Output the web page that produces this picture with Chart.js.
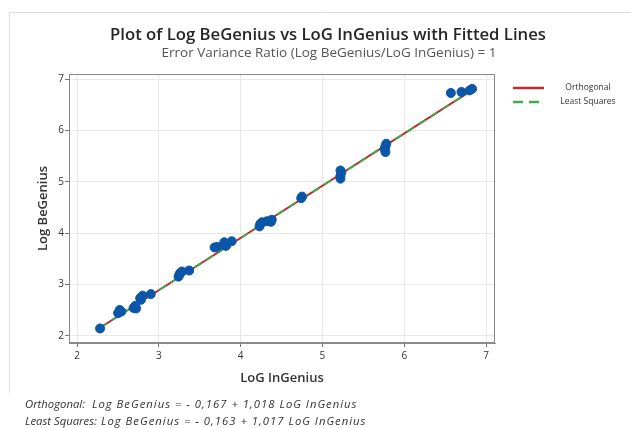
<!DOCTYPE html>
<html>
<head>
<meta charset="utf-8">
<script src="https://cdn.jsdelivr.net/npm/chart.js@4/dist/chart.umd.min.js"></script>
<style>
  body { margin: 0; background: #fff; }
  #wrap { position: relative; width: 631px; height: 428px; }
</style>
</head>
<body>
<div id="wrap"><canvas id="chart" width="631" height="428"></canvas></div>
<script>
const xValues = [2.28, 2.50, 2.52, 2.54, 2.69, 2.71, 2.72, 2.77, 2.78, 2.80, 2.90,
    3.24, 3.25, 3.26, 3.28, 3.37, 3.68, 3.71, 3.79, 3.80, 3.82, 3.89,
    4.23, 4.24, 4.26, 4.32, 4.37, 4.38, 4.74, 4.75,
    5.22, 5.22, 5.23, 5.22, 5.76, 5.77, 5.77, 5.78, 6.57, 6.70, 6.80, 6.83];
const yValues = [2.14, 2.44, 2.50, 2.47, 2.54, 2.58, 2.53, 2.73, 2.70, 2.78, 2.81,
    3.15, 3.19, 3.22, 3.25, 3.27, 3.72, 3.73, 3.77, 3.82, 3.75, 3.84,
    4.13, 4.18, 4.21, 4.23, 4.22, 4.26, 4.68, 4.71,
    5.06, 5.12, 5.18, 5.22, 5.64, 5.58, 5.69, 5.74, 6.73, 6.75, 6.78, 6.81];

// fitted line end points
const lineX = [2.28, 6.83];
const orthoY = [2.154, 6.786];
const lsY = [2.156, 6.783];

const xTicks = [2, 3, 4, 5, 6, 7];
const yTicks = [2, 3, 4, 5, 6, 7];

const titleText = 'Plot of Log BeGenius vs LoG InGenius with Fitted Lines';
const subtitleText = 'Error Variance Ratio (Log BeGenius/LoG InGenius) = 1';
const legendLabels = ['Orthogonal', 'Least Squares'];
const eqLabels = ['Orthogonal:', 'Least Squares:'];
const equations = [
    'Log BeGenius = - 0,167 + 1,018 LoG InGenius',
    'Log BeGenius = - 0,163 + 1,017 LoG InGenius'
];

const RED = '#bf2b2b';
const GREEN = '#44a84e';
const BLUE = '#0b56a8';
const FONT = "'Open Sans', 'Noto Sans', sans-serif";

const toPts = (xs, ys) => xs.map((x, i) => ({ x: x, y: ys[i] }));

// titles, legend, equations, frame
const decorations = {
    id: 'decorations',
    afterDraw(chart) {
        const ctx = chart.ctx;
        const area = chart.chartArea;
        ctx.save();

        // outer frame
        ctx.strokeStyle = '#dcdcdc';
        ctx.lineWidth = 1;
        ctx.beginPath();
        ctx.moveTo(9.5, 393);
        ctx.lineTo(9.5, 12.5);
        ctx.lineTo(631, 12.5);
        ctx.stroke();

        // plot box
        ctx.strokeStyle = '#8a8a8a';
        ctx.strokeRect(area.left + 0.5, area.top + 0.5, area.right - area.left - 1, area.bottom - area.top - 1);

        ctx.textAlign = 'center';
        ctx.textBaseline = 'middle';
        ctx.fillStyle = '#262626';
        ctx.font = '600 16.7px ' + FONT;
        ctx.fillText(titleText, 328, 35);
        ctx.fillStyle = '#555';
        ctx.font = '13.5px ' + FONT;
        ctx.fillText(subtitleText, 329, 53);

        // legend
        ctx.lineWidth = 2.5;
        ctx.strokeStyle = RED;
        ctx.beginPath();
        ctx.moveTo(513, 88);
        ctx.lineTo(544, 88);
        ctx.stroke();
        ctx.strokeStyle = GREEN;
        ctx.setLineDash([10, 6]);
        ctx.beginPath();
        ctx.moveTo(513, 102);
        ctx.lineTo(544, 102);
        ctx.stroke();
        ctx.setLineDash([]);
        ctx.fillStyle = '#333';
        ctx.font = '8.5px ' + FONT;
        ctx.fillText(legendLabels[0], 588, 88);
        ctx.fillText(legendLabels[1], 588, 102);

        // equations
        ctx.textAlign = 'left';
        ctx.font = 'italic 11.3px ' + FONT;
        ctx.fillText(eqLabels[0], 25, 405);
        ctx.fillText(eqLabels[1], 25, 422);
        ctx.letterSpacing = '1px';
        ctx.fillText(equations[0], 92, 405);
        ctx.fillText(equations[1], 101, 422);
        ctx.restore();
    }
};

const ctx = document.getElementById('chart').getContext('2d');
new Chart(ctx, {
    type: 'scatter',
    data: {
        datasets: [
            {
                label: 'Data',
                data: toPts(xValues, yValues),
                backgroundColor: BLUE,
                borderColor: BLUE,
                pointRadius: 4.5,
                order: 0
            },
            {
                label: legendLabels[1],
                type: 'line',
                data: toPts(lineX, lsY),
                borderColor: GREEN,
                borderWidth: 2,
                borderDash: [8, 6],
                pointRadius: 0,
                order: 1
            },
            {
                label: legendLabels[0],
                type: 'line',
                data: toPts(lineX, orthoY),
                borderColor: RED,
                borderWidth: 2,
                pointRadius: 0,
                order: 2
            }
        ]
    },
    options: {
        responsive: false,
        animation: false,
        devicePixelRatio: 1,
        layout: { padding: { left: 30, top: 74, right: 136, bottom: 41 } },
        plugins: {
            legend: { display: false },
            tooltip: { enabled: false }
        },
        scales: {
            x: {
                type: 'linear',
                min: 1.9,
                max: 7.11,
                afterBuildTicks: s => { s.ticks = xTicks.map(v => ({ value: v })); },
                afterFit: s => { s.height = 44; },
                ticks: {
                    includeBounds: false,
                    padding: 3,
                    color: '#333',
                    font: { family: FONT, size: 10 }
                },
                grid: { color: '#e8e8e8', tickColor: '#777', tickLength: 4 },
                border: { color: '#8a8a8a' },
                title: {
                    display: true,
                    text: 'LoG InGenius',
                    color: '#333',
                    font: { family: FONT, size: 13, weight: 600 },
                    padding: { top: 0, bottom: 1 }
                }
            },
            y: {
                min: 1.857,
                max: 7.1,
                afterBuildTicks: s => { s.ticks = yTicks.map(v => ({ value: v })); },
                afterFit: s => { s.width = 39; },
                ticks: {
                    includeBounds: false,
                    padding: 1,
                    color: '#333',
                    font: { family: FONT, size: 10 }
                },
                grid: { color: '#e8e8e8', tickColor: '#777', tickLength: 4 },
                border: { color: '#8a8a8a' },
                title: {
                    display: true,
                    text: 'Log BeGenius',
                    color: '#333',
                    font: { family: FONT, size: 13, weight: 600 },
                    padding: { top: 5, bottom: 0 }
                }
            }
        }
    },
    plugins: [decorations]
});
</script>
</body>
</html>
